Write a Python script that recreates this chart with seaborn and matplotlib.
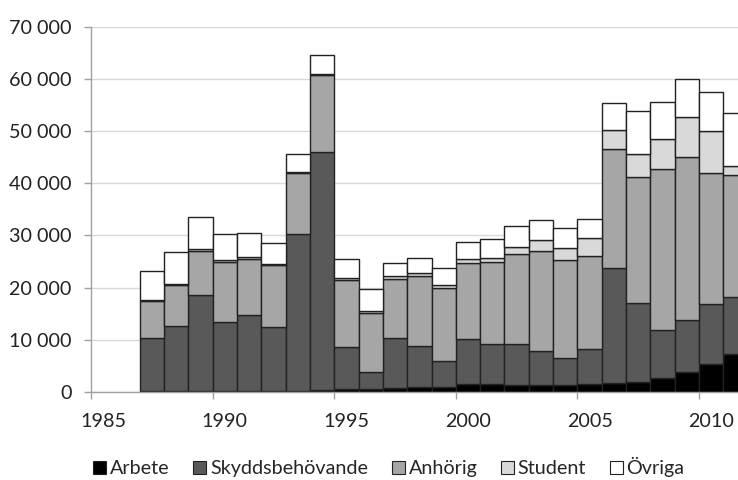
import matplotlib
matplotlib.use("Agg")
import matplotlib.pyplot as plt
import matplotlib.ticker as mticker
from matplotlib.patches import Patch
import pandas as pd
import seaborn as sns

# data
years = list(range(1987, 2012))
categories = ["Arbete", "Skyddsbehövande", "Anhörig", "Student", "Övriga"]
arbete = [150, 150, 150, 150, 150, 150, 150, 300, 600, 500, 700, 1000, 1000,
          1450, 1450, 1300, 1300, 1300, 1450, 1650, 2000, 2600, 3750, 5400, 7200]
skydd = [10150, 12550, 18450, 13300, 14550, 12350, 30050, 45750, 7950, 3270,
         9700, 7800, 4950, 8650, 7700, 7850, 6600, 5150, 6850, 22150, 15050,
         9200, 10100, 11450, 11050]
anhorig = [7100, 7750, 8450, 11450, 10850, 11750, 11700, 14600, 12900, 11400,
           11300, 13400, 14050, 14550, 15750, 17300, 19100, 18800, 17700, 22700,
           24100, 30900, 31250, 25050, 23250]
student = [300, 300, 300, 300, 300, 300, 300, 300, 300, 350, 580, 650, 580,
           770, 700, 1400, 2050, 2400, 3450, 3650, 4500, 5750, 7550, 8150, 1800]
ovriga = [5550, 6150, 6250, 5050, 4600, 3950, 3450, 3650, 3700, 4150, 2370,
          2750, 3250, 3370, 3650, 3950, 3900, 3700, 3700, 5200, 8200, 7150,
          7350, 7350, 10200]
colors = ["#000000", "#595959", "#a6a6a6", "#d9d9d9", "#ffffff"]
tick_years = list(range(1985, 2011, 5))

series = [arbete, skydd, anhorig, student, ovriga]
df = pd.concat([pd.DataFrame({"year": years, "antal": vals, "kategori": cat})
                for cat, vals in zip(categories, series)], ignore_index=True)

sns.set_theme(style="white")
plt.rcParams["font.family"] = ["Lato", "DejaVu Sans"]
fs = 14.2

fig = plt.figure(figsize=(7.38, 4.8), dpi=100)
ax = fig.add_axes([0.1233, 0.1833, 0.8767, 0.7613])

# histplot stacks the first hue level on top, so pass the order reversed
sns.histplot(data=df, x="year", weights="antal", hue="kategori",
             hue_order=categories[::-1], palette=colors[::-1],
             multiple="stack", binwidth=1, binrange=(1987, 2012),
             alpha=1, edgecolor="#222222", linewidth=1, legend=False, ax=ax)

ax.set_xlim(1985, 2011.6)
ax.set_ylim(0, 70000)
# category-style axis: tick marks on the year boundaries, labels centred on the year
ax.set_xticks(tick_years)
ax.set_xticklabels([])
ax.set_xticks([y + 0.5 for y in tick_years], minor=True)
ax.set_xticklabels([str(y) for y in tick_years], minor=True)
ax.set_yticks(range(0, 70001, 10000))
ax.yaxis.set_major_formatter(
    mticker.FuncFormatter(lambda v, p: f"{v:,.0f}".replace(",", " ")))
ax.yaxis.grid(True, color="#d9d9d9", linewidth=1)
ax.set_axisbelow(True)
ax.set_xlabel("")
ax.set_ylabel("")
for side in ["top", "right"]:
    ax.spines[side].set_visible(False)
for side in ["left", "bottom"]:
    ax.spines[side].set_color("#a0a0a0")
    ax.spines[side].set_linewidth(1)
ax.tick_params(axis="both", which="major", length=5, width=1, color="#a0a0a0",
               labelsize=fs, labelcolor="#222222", direction="out",
               bottom=True, left=True)
ax.tick_params(axis="y", pad=9)
ax.tick_params(axis="x", which="minor", length=0, pad=15, labelsize=fs,
               labelcolor="#222222", bottom=True)

handles = [Patch(facecolor=c, edgecolor="#222222", linewidth=0.8) for c in colors]
fig.legend(handles, categories, loc="center", bbox_to_anchor=(0.527, 0.027),
           ncol=5, frameon=False, fontsize=fs, handlelength=0.65,
           handleheight=0.65, handletextpad=0.2, columnspacing=1.2)

fig.savefig("out.png", dpi=100)
